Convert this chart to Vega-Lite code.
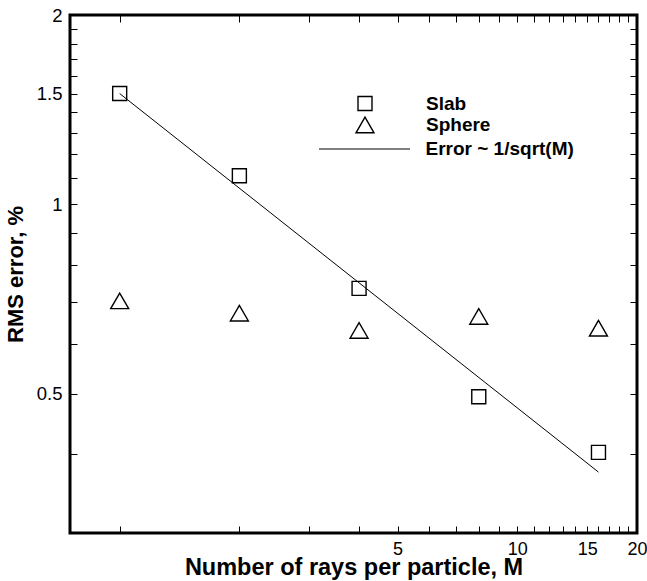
{
  "$schema": "https://vega.github.io/schema/vega-lite/v6.json",
  "width": 567,
  "height": 518,
  "autosize": "none",
  "padding": {"left": 70, "top": 15, "right": 10, "bottom": 48},
  "background": "white",
  "config": {
    "font": "Liberation Sans",
    "view": {"stroke": "black", "strokeWidth": 3},
    "axis": {
      "grid": false,
      "domain": false,
      "labelFont": "Liberation Sans",
      "titleFont": "Liberation Sans",
      "tickColor": "black",
      "labelColor": "black",
      "titleColor": "black",
      "labelFlush": false,
      "labelOverlap": false,
      "labelBound": false,
      "tickSize": -7
    },
    "legend": {"labelFont": "Liberation Sans", "labelColor": "black"}
  },
  "datasets": {
    "points": [
      {"M": 1, "rms": 1.5, "series": "Slab"},
      {"M": 2, "rms": 1.11, "series": "Slab"},
      {"M": 4, "rms": 0.735, "series": "Slab"},
      {"M": 8, "rms": 0.494, "series": "Slab"},
      {"M": 16, "rms": 0.403, "series": "Slab"},
      {"M": 1, "rms": 0.702, "series": "Sphere"},
      {"M": 2, "rms": 0.671, "series": "Sphere"},
      {"M": 4, "rms": 0.63, "series": "Sphere"},
      {"M": 8, "rms": 0.663, "series": "Sphere"},
      {"M": 16, "rms": 0.635, "series": "Sphere"}
    ],
    "fit": [
      {"M": 1, "rms": 1.5, "series": "Error ~ 1/sqrt(M)"},
      {"M": 16, "rms": 0.375, "series": "Error ~ 1/sqrt(M)"}
    ]
  },
  "layer": [
    {
      "data": {"name": "fit"},
      "mark": {"type": "line", "strokeWidth": 1, "clip": true},
      "encoding": {
        "x": {
          "field": "M",
          "type": "quantitative",
          "scale": {"type": "log", "domain": [0.75, 20], "nice": false, "zero": false},
          "axis": {
            "orient": "top",
            "values": [1, 2, 3, 4, 5, 6, 7, 8, 9, 10, 11, 12, 13, 14, 15, 16, 17, 18, 19, 20],
            "tickSize": -7,
            "labels": false,
            "title": null,
            "encode": {
              "ticks": {
                "update": {
                  "y2": {"signal": "indexof([5,10,15,20], datum.value) >= 0 ? 12 : 7"},
                  "strokeWidth": {"signal": "indexof([5,10,15,20], datum.value) >= 0 ? 3 : 1.5"}
                }
              }
            }
          }
        },
        "y": {
          "field": "rms",
          "type": "quantitative",
          "scale": {"type": "log", "domain": [0.3, 2], "nice": false, "zero": false},
          "axis": {
            "orient": "right",
            "values": [0.4, 0.5, 0.6, 0.7, 0.8, 0.9, 1, 1.1, 1.2, 1.3, 1.4, 1.5, 1.6, 1.7, 1.8, 1.9, 2],
            "tickSize": -7,
            "labels": false,
            "title": null,
            "encode": {
              "ticks": {
                "update": {
                  "x2": {"signal": "indexof([0.5,1,1.5,2], datum.value) >= 0 ? -12 : -7"},
                  "strokeWidth": {"signal": "indexof([0.5,1,1.5,2], datum.value) >= 0 ? 3 : 1.5"}
                }
              }
            }
          }
        },
        "color": {
          "field": "series",
          "type": "nominal",
          "scale": {"range": ["black"]},
          "legend": {
            "orient": "none",
            "legendX": 248.5,
            "legendY": 88,
            "title": null,
            "padding": 0,
            "symbolType": "stroke",
            "symbolSize": 8281,
            "symbolStrokeWidth": 1,
            "labelOffset": 15,
            "labelFontSize": 19,
            "labelFontWeight": "bold"
          }
        }
      }
    },
    {
      "data": {"name": "points"},
      "mark": {"type": "point", "filled": false, "color": "black", "strokeWidth": 1.4, "opacity": 1},
      "encoding": {
        "x": {
          "field": "M",
          "type": "quantitative",
          "scale": {"type": "log", "domain": [0.75, 20], "nice": false, "zero": false},
          "axis": {
            "orient": "bottom",
            "values": [1, 2, 3, 4, 5, 6, 7, 8, 9, 10, 11, 12, 13, 14, 15, 16, 17, 18, 19, 20],
            "tickSize": -7,
            "labelExpr": "indexof([5,10,15,20], datum.value) >= 0 ? format(datum.value, '~g') : ''",
            "labelPadding": 14,
            "labelFontSize": 18,
            "title": "Number of rays per particle, M",
            "titleFontSize": 23.5,
            "titleFontWeight": "bold",
            "titlePadding": -3,
            "encode": {
              "ticks": {
                "update": {
                  "y2": {"signal": "indexof([5,10,15,20], datum.value) >= 0 ? -12 : -7"},
                  "strokeWidth": {"signal": "indexof([5,10,15,20], datum.value) >= 0 ? 3 : 1.5"}
                }
              }
            }
          }
        },
        "y": {
          "field": "rms",
          "type": "quantitative",
          "scale": {"type": "log", "domain": [0.3, 2], "nice": false, "zero": false},
          "axis": {
            "orient": "left",
            "values": [0.4, 0.5, 0.6, 0.7, 0.8, 0.9, 1, 1.1, 1.2, 1.3, 1.4, 1.5, 1.6, 1.7, 1.8, 1.9, 2],
            "tickSize": -7,
            "labelExpr": "indexof([0.5,1,1.5,2], datum.value) >= 0 ? format(datum.value, '~g') : ''",
            "labelPadding": 15,
            "labelFontSize": 18.5,
            "title": "RMS error, %",
            "titleFontSize": 22,
            "titleFontWeight": "bold",
            "titlePadding": 9,
            "encode": {
              "ticks": {
                "update": {
                  "x2": {"signal": "indexof([0.5,1,1.5,2], datum.value) >= 0 ? 12 : 7"},
                  "strokeWidth": {"signal": "indexof([0.5,1,1.5,2], datum.value) >= 0 ? 3 : 1.5"}
                }
              }
            }
          }
        },
        "shape": {
          "field": "series",
          "type": "ordinal",
          "scale": {"domain": ["Slab", "Sphere"], "range": ["square", "triangle-up"]},
          "legend": {
            "orient": "none",
            "legendX": 285,
            "legendY": 79,
            "title": null,
            "padding": 0,
            "rowPadding": 0,
            "labelOffset": 51,
            "labelFontSize": 19,
            "labelFontWeight": "bold",
            "symbolStrokeColor": "black",
            "symbolStrokeWidth": 1.4
          }
        },
        "size": {
          "field": "series",
          "type": "ordinal",
          "scale": {"domain": ["Slab", "Sphere"], "range": [196, 324]},
          "legend": {
            "orient": "none",
            "legendX": 285,
            "legendY": 79,
            "title": null,
            "padding": 0,
            "rowPadding": 0,
            "labelOffset": 51,
            "labelFontSize": 19,
            "labelFontWeight": "bold",
            "symbolStrokeColor": "black",
            "symbolStrokeWidth": 1.4
          }
        }
      }
    }
  ],
  "resolve": {"axis": {"x": "independent", "y": "independent"}}
}
